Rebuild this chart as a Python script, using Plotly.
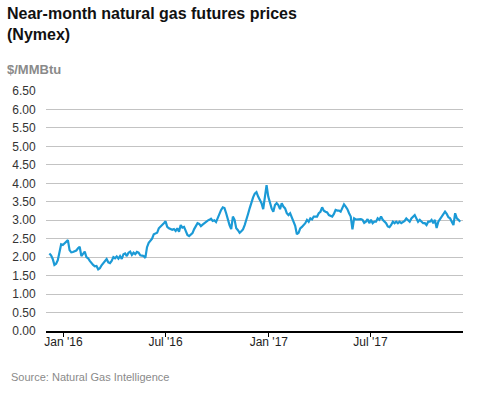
import pandas as pd
import plotly.graph_objects as go

# Near-month natural gas futures (Nymex), $/MMBtu, sampled every 3 days from 2015-12-07
start_date = "2015-12-07"
prices = [
    2.10, 2.05, 1.95, 1.79, 1.82, 1.92, 2.13, 2.35, 2.33, 2.37,
    2.40, 2.46, 2.19, 2.13, 2.14, 2.16, 2.18, 2.24, 2.28, 2.03,
    2.10, 2.15, 2.00, 1.97, 1.90, 1.83, 1.79, 1.75, 1.76, 1.67,
    1.70, 1.78, 1.84, 1.87, 1.95, 1.86, 1.84, 1.90, 2.00, 1.97,
    2.02, 1.96, 2.03, 1.95, 2.08, 2.10, 2.03, 2.12, 2.15, 2.06,
    2.12, 2.08, 2.14, 2.12, 2.05, 2.04, 2.03, 1.98, 2.27, 2.39,
    2.46, 2.50, 2.62, 2.64, 2.66, 2.78, 2.82, 2.86, 2.92, 2.97,
    2.82, 2.78, 2.76, 2.74, 2.76, 2.71, 2.78, 2.69, 2.87, 2.80,
    2.82, 2.70, 2.60, 2.57, 2.62, 2.65, 2.76, 2.86, 2.92, 2.90,
    2.84, 2.88, 2.92, 2.94, 2.99, 3.01, 3.04, 2.98, 3.00, 2.95,
    3.08, 3.21, 3.28, 3.35, 3.33, 3.19, 3.00, 2.87, 2.76, 3.10,
    3.01, 2.78, 2.73, 2.66, 2.70, 2.75, 2.87, 3.00, 3.17, 3.33,
    3.50, 3.62, 3.72, 3.76, 3.64, 3.55, 3.46, 3.30, 3.68, 3.95,
    3.64, 3.46, 3.32, 3.23, 3.41, 3.46, 3.41, 3.30, 3.46, 3.37,
    3.32, 3.19, 3.14, 3.19, 3.05, 2.96, 2.85, 2.62, 2.66, 2.78,
    2.82, 2.87, 2.92, 3.01, 2.96, 3.05, 3.02, 3.10, 3.11, 3.10,
    3.19, 3.23, 3.35, 3.26, 3.23, 3.21, 3.14, 3.11, 3.10, 3.17,
    3.28, 3.26, 3.26, 3.23, 3.32, 3.43, 3.37, 3.30, 3.19, 3.10,
    2.75, 3.05, 3.02, 3.03, 3.03, 3.03, 3.01, 2.93, 2.96, 3.03,
    2.92, 3.01, 2.92, 2.96, 2.96, 3.05, 3.01, 3.10, 3.01, 2.96,
    2.92, 2.83, 2.81, 2.87, 2.96, 2.92, 2.96, 2.92, 2.96, 2.92,
    2.94, 2.98, 3.05, 3.01, 2.96, 3.05, 3.10, 3.14, 3.05, 2.96,
    3.01, 2.96, 2.92, 2.92, 2.87, 2.96, 2.96, 3.01, 2.92, 3.01,
    2.79, 2.96, 3.03, 3.10, 3.19, 3.23, 3.17, 3.08, 3.05, 2.96,
    2.87, 3.19, 3.05, 3.01, 2.96,
]
dates = pd.date_range(start_date, periods=len(prices), freq="3D")

tick_dates = ["2016-01-01", "2016-07-01", "2017-01-01", "2017-07-01"]
tick_labels = ["Jan '16", "Jul '16", "Jan '17", "Jul '17"]
y_ticks = [0, 0.5, 1, 1.5, 2, 2.5, 3, 3.5, 4, 4.5, 5, 5.5, 6, 6.5]

title_text = "Near-month natural gas futures prices<br>(Nymex)"
unit_text = "$/MMBtu"
source_text = "Source: Natural Gas Intelligence"

FONT = "Liberation Sans, Arial, sans-serif"

fig = go.Figure()
fig.add_trace(go.Scatter(
    x=dates, y=prices, mode="lines",
    line=dict(color="#1b9ad6", width=2.2),
    hoverinfo="x+y",
))

L, R, T, B = 40, 14, 91, 62
W, H = 477, 393
plot_w = W - L - R
plot_h = H - T - B

def px_x(px):
    return (px - L) / plot_w

def px_y(py):
    return (H - B - py) / plot_h

fig.update_layout(
    width=W, height=H,
    margin=dict(l=L, r=R, t=T, b=B),
    paper_bgcolor="white", plot_bgcolor="white",
    showlegend=False,
    font=dict(family=FONT, size=12, color="#333333"),
    xaxis=dict(
        type="date",
        range=["2015-12-01", "2017-12-13"],
        tickvals=tick_dates, ticktext=tick_labels,
        showgrid=False, zeroline=False,
        showline=True, linecolor="#000000", linewidth=1.5,
        ticks="outside", ticklen=4, tickcolor="#000000", tickwidth=1,
        ticklabelstandoff=-5,
        tickfont=dict(family=FONT, size=12, color="#222222"),
        fixedrange=True,
    ),
    yaxis=dict(
        range=[0, 6.5],
        tickvals=y_ticks, tickformat=".2f",
        showgrid=True, gridcolor="#c3c3c3", gridwidth=1,
        zeroline=False, showline=False,
        ticks="outside", ticklen=7, tickcolor="rgba(0,0,0,0)",
        tickfont=dict(family=FONT, size=12, color="#333333"),
        fixedrange=True,
    ),
    annotations=[
        dict(text="<b>" + title_text + "</b>", xref="paper", yref="paper",
             x=px_x(-2), y=px_y(3), xanchor="left", yanchor="top", align="left",
             showarrow=False, font=dict(family=FONT, size=16, color="#111111")),
        dict(text="<b>" + unit_text + "</b>", xref="paper", yref="paper",
             x=px_x(-2), y=px_y(60), xanchor="left", yanchor="top", align="left",
             showarrow=False, font=dict(family=FONT, size=13, color="#8a8a8a")),
        dict(text=source_text, xref="paper", yref="paper",
             x=px_x(2), y=px_y(377), xanchor="left", yanchor="middle", align="left",
             showarrow=False, font=dict(family=FONT, size=11, color="#8a8a8a")),
    ],
)

fig.write_html("out.html", config={"displayModeBar": False},
               post_script="document.body.style.margin='0';")
